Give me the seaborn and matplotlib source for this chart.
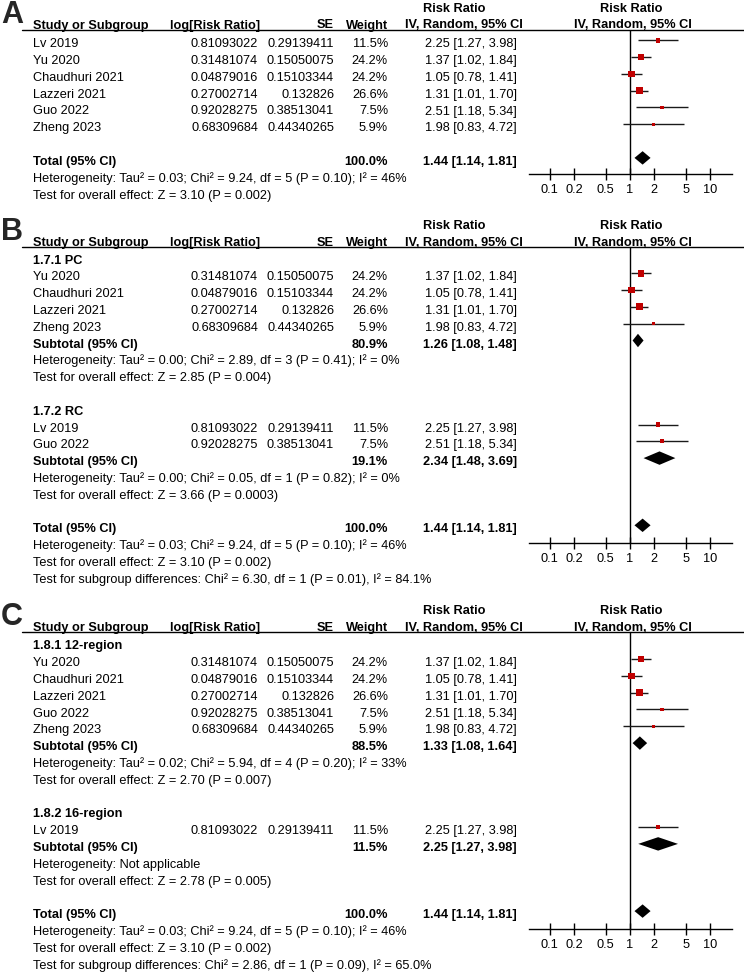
import numpy as np
import pandas as pd
import matplotlib.pyplot as plt
import seaborn as sns
from matplotlib.ticker import FixedLocator, NullLocator

# study level data (same six studies in every panel)
studies = ["Lv 2019", "Yu 2020", "Chaudhuri 2021", "Lazzeri 2021", "Guo 2022", "Zheng 2023"]
log_rr = [0.81093022, 0.31481074, 0.04879016, 0.27002714, 0.92028275, 0.68309684]
se = [0.29139411, 0.15050075, 0.15103344, 0.132826, 0.38513041, 0.44340265]
weight = [11.5, 24.2, 24.2, 26.6, 7.5, 5.9]
rr = [2.25, 1.37, 1.05, 1.31, 2.51, 1.98]
rr_lo = [1.27, 1.02, 0.78, 1.01, 1.18, 0.83]
rr_hi = [3.98, 1.84, 1.41, 1.70, 5.34, 4.72]

# overall pooled result
total_ci = (1.44, 1.14, 1.81)
total_het = "Heterogeneity: Tau² = 0.03; Chi² = 9.24, df = 5 (P = 0.10); I² = 46%"
total_z = "Test for overall effect: Z = 3.10 (P = 0.002)"

# panel B subgroups
b_names = ["1.7.1 PC", "1.7.2 RC"]
b_members = [["Yu 2020", "Chaudhuri 2021", "Lazzeri 2021", "Zheng 2023"], ["Lv 2019", "Guo 2022"]]
b_weight = [80.9, 19.1]
b_ci = [(1.26, 1.08, 1.48), (2.34, 1.48, 3.69)]
b_het = ["Heterogeneity: Tau² = 0.00; Chi² = 2.89, df = 3 (P = 0.41); I² = 0%",
         "Heterogeneity: Tau² = 0.00; Chi² = 0.05, df = 1 (P = 0.82); I² = 0%"]
b_z = ["Test for overall effect: Z = 2.85 (P = 0.004)",
       "Test for overall effect: Z = 3.66 (P = 0.0003)"]
b_diff = "Test for subgroup differences: Chi² = 6.30, df = 1 (P = 0.01), I² = 84.1%"

# panel C subgroups
c_names = ["1.8.1 12-region", "1.8.2 16-region"]
c_members = [["Yu 2020", "Chaudhuri 2021", "Lazzeri 2021", "Guo 2022", "Zheng 2023"], ["Lv 2019"]]
c_weight = [88.5, 11.5]
c_ci = [(1.33, 1.08, 1.64), (2.25, 1.27, 3.98)]
c_het = ["Heterogeneity: Tau² = 0.02; Chi² = 5.94, df = 4 (P = 0.20); I² = 33%",
         "Heterogeneity: Not applicable"]
c_z = ["Test for overall effect: Z = 2.70 (P = 0.007)",
       "Test for overall effect: Z = 2.78 (P = 0.005)"]
c_diff = "Test for subgroup differences: Chi² = 2.86, df = 1 (P = 0.09), I² = 65.0%"

ticks = [0.1, 0.2, 0.5, 1, 2, 5, 10]
tick_labels = ["0.1", "0.2", "0.5", "1", "2", "5", "10"]

df = pd.DataFrame({"study": studies, "log_rr": log_rr, "se": se, "weight": weight,
                   "rr": rr, "lo": rr_lo, "hi": rr_hi}).set_index("study")
# square side ~ sqrt(weight), biggest about 7 px
df["area"] = (7 * np.sqrt(df["weight"] / df["weight"].max()) * 0.72) ** 2
amin, amax = df["area"].min(), df["area"].max()

sns.set_theme(style="white")
plt.rcParams["font.family"] = ["Liberation Sans", "DejaVu Sans"]

W, H = 744, 972
FS = 9.15
RED = "#C00000"
fig = plt.figure(figsize=(W / 100, H / 100), dpi=100)
ax_txt = fig.add_axes([0, 0, 1, 1])
ax_txt.set_xlim(0, W)
ax_txt.set_ylim(H, 0)
ax_txt.axis("off")

X_NAME, X_LOG, X_SE, X_WT, X_CI = 33, 258, 334, 388, 517


def txt(x, y, s, ha="left", bold=False):
    ax_txt.text(x, y, s, ha=ha, va="baseline", fontsize=FS,
                fontweight="bold" if bold else "normal", color="black")


def ci_str(c):
    return f"{c[0]:.2f} [{c[1]:.2f}, {c[2]:.2f}]"


def simple_rows():
    rows = [("study", s) for s in studies]
    rows += [("blank", None), ("total", None), ("text", total_het), ("text", total_z)]
    return rows


def group_rows(names, members, wts, cis, hets, zs, diff):
    rows = []
    for k in range(len(names)):
        rows.append(("group", names[k]))
        rows += [("study", s) for s in members[k]]
        rows.append(("sub", (wts[k], cis[k])))
        rows += [("text", hets[k]), ("text", zs[k]), ("blank", None)]
    rows += [("total", None), ("text", total_het), ("text", total_z), ("text", diff)]
    return rows


def diamond(ax, c, r, h=0.4):
    ax.fill([c[1], c[0], c[2], c[0]], [r, r - h, r, r + h], color="black", lw=0, zorder=3)


def draw_panel(letter, rows, ut, m0, p, ab):
    ax_txt.text(1, ut - 7, letter, fontsize=22, fontweight="bold", va="baseline")
    base = ut - 1.5
    txt(X_NAME, base, "Study or Subgroup", bold=True)
    txt(170, base, "log[Risk Ratio]", bold=True)
    txt(X_SE, base, "SE", ha="right", bold=True)
    txt(X_WT, base, "Weight", ha="right", bold=True)
    txt(464, base, "IV, Random, 95% CI", ha="center", bold=True)
    txt(454, base - 17, "Risk Ratio", ha="center", bold=True)
    txt(633, base, "IV, Random, 95% CI", ha="center", bold=True)
    txt(631, base - 17, "Risk Ratio", ha="center", bold=True)
    ax_txt.plot([22, W], [ut, ut], color="black", lw=1)

    fx = fig.add_axes([529 / W, 1 - ab / H, (732 - 529) / W, (ab - ut) / H])
    fx.patch.set_visible(False)

    pts = []
    for i, (kind, item) in enumerate(rows):
        yb = m0 + i * p + 2.5 + 4.5
        if kind == "group":
            txt(X_NAME, yb, item, bold=True)
        elif kind == "study":
            d = df.loc[item]
            txt(X_NAME, yb, item)
            txt(X_LOG, yb, str(d["log_rr"]), ha="right")
            txt(X_SE, yb, str(d["se"]), ha="right")
            txt(X_WT, yb, f"{d['weight']:.1f}%", ha="right")
            txt(X_CI, yb, ci_str((d["rr"], d["lo"], d["hi"])), ha="right")
            fx.hlines(i, d["lo"], d["hi"], color="#1a1a1a", lw=1, zorder=2)
            pts.append({"rr": d["rr"], "row": i, "area": d["area"]})
        elif kind == "sub":
            txt(X_NAME, yb, "Subtotal (95% CI)", bold=True)
            txt(X_WT, yb, f"{item[0]:.1f}%", ha="right", bold=True)
            txt(X_CI, yb, ci_str(item[1]), ha="right", bold=True)
            diamond(fx, item[1], i)
        elif kind == "total":
            txt(X_NAME, yb, "Total (95% CI)", bold=True)
            txt(X_WT, yb, "100.0%", ha="right", bold=True)
            txt(X_CI, yb, ci_str(total_ci), ha="right", bold=True)
            diamond(fx, total_ci, i)
        elif kind == "text":
            txt(X_NAME, yb, item)

    sns.scatterplot(data=pd.DataFrame(pts), x="rr", y="row", size="area",
                    sizes=(amin, amax), size_norm=(amin, amax), marker="s",
                    color=RED, linewidth=0, legend=False, ax=fx, zorder=4)

    fx.set_xscale("log")
    fx.set_xlim(0.055, 18.8)
    fx.set_ylim((ab - m0) / p, (ut - m0) / p)
    fx.axvline(1, color="black", lw=1, zorder=1)
    fx.xaxis.set_major_locator(FixedLocator(ticks))
    fx.xaxis.set_minor_locator(NullLocator())
    fx.set_xticklabels(tick_labels)
    fx.tick_params(axis="x", direction="inout", length=8, width=1, pad=3,
                   labelsize=FS, colors="black", bottom=True)
    fx.set_yticks([])
    for s in ["top", "left", "right"]:
        fx.spines[s].set_visible(False)
    fx.spines["bottom"].set_color("black")
    fx.spines["bottom"].set_linewidth(1)
    fx.set_xlabel("")
    fx.set_ylabel("")


draw_panel("A", simple_rows(), 30, 40.3, 16.8, 174)
draw_panel("B", group_rows(b_names, b_members, b_weight, b_ci, b_het, b_z, b_diff),
           247, 256.5, 16.8, 543)
draw_panel("C", group_rows(c_names, c_members, c_weight, c_ci, c_het, c_z, c_diff),
           632, 642.3, 16.8, 929)

fig.savefig("out.png", dpi=100)
